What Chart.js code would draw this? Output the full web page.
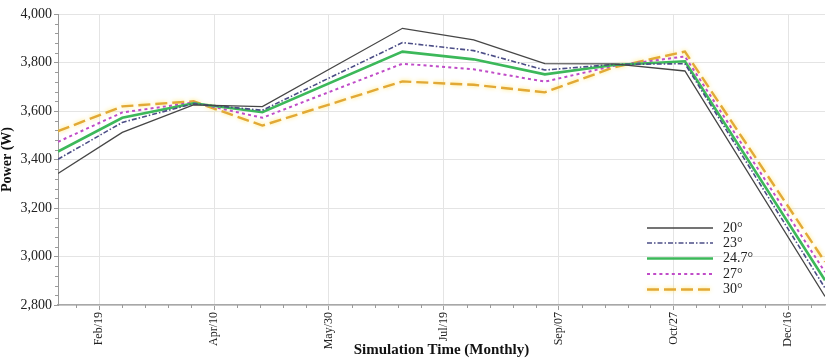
<!DOCTYPE html>
<html>
<head>
<meta charset="utf-8">
<script src="https://cdn.jsdelivr.net/npm/chart.js@4.4.1/dist/chart.umd.min.js"></script>
<style>
  html, body { margin: 0; padding: 0; background: #ffffff; }
  #wrap { width: 830px; height: 358px; position: relative; }
</style>
</head>
<body>
<div id="wrap"><canvas id="c" width="830" height="358"></canvas></div>
<script>
// Day of year (0 = Jan 1) of each monthly sample
const sampleDays = [31, 59, 90, 120, 181, 212, 243, 273, 304, 365];
// x-axis tick positions (day of year) and their labels
const tickDays = [49, 99, 149, 199, 249, 299, 349];
const tickLabels = ['Feb/19', 'Apr/10', 'May/30', 'Jul/19', 'Sep/07', 'Oct/27', 'Dec/16'];
// Series labels
const seriesNames = ['20°', '23°', '24.7°', '27°', '30°'];
// Power (W) per tilt angle
const tilt20  = [3342, 3512, 3625, 3618, 3941, 3893, 3795, 3794, 3765, 2835];
const tilt23  = [3401, 3553, 3630, 3603, 3882, 3849, 3769, 3792, 3795, 2870];
const tilt247 = [3433, 3572, 3632, 3595, 3845, 3813, 3751, 3790, 3805, 2902];
const tilt27  = [3473, 3594, 3635, 3572, 3795, 3772, 3721, 3786, 3825, 2936];
const tilt30  = [3517, 3619, 3640, 3540, 3722, 3708, 3677, 3780, 3845, 2978];

const FONT = '"Liberation Serif", "Times New Roman", serif';

function pts(arr) { return arr.map((v, i) => ({ x: sampleDays[i], y: v })); }

const styles = [
  { color: '#464646', width: 1.3, dash: [] },
  { color: '#4b4d86', width: 1.6, dash: [5, 2, 1.5, 2] },
  { color: '#3cb85a', width: 2.6, dash: [] },
  { color: '#c04cc8', width: 2.0, dash: [3, 3.2] },
  { color: '#e2a936', width: 2.4, dash: [12, 5] }
];
const seriesData = [tilt20, tilt23, tilt247, tilt27, tilt30];

const datasets = seriesData.map((arr, i) => ({
  label: seriesNames[i],
  data: pts(arr),
  borderColor: styles[i].color,
  backgroundColor: styles[i].color,
  borderWidth: styles[i].width,
  borderDash: styles[i].dash,
  pointRadius: 0,
  tension: 0,
  fill: false
}));

const glowPlugin = {
  id: 'glow',
  beforeDatasetDraw(chart, args) {
    if (args.index === 4) {
      chart.ctx.save();
      chart.ctx.shadowColor = 'rgba(255, 228, 100, 0.9)';
      chart.ctx.shadowBlur = 4;
    }
  },
  afterDatasetDraw(chart, args) {
    if (args.index === 4) chart.ctx.restore();
  }
};

const minorTicks = {
  id: 'minorTicks',
  afterDraw(chart) {
    const ctx = chart.ctx;
    const xs = chart.scales.x, ys = chart.scales.y;
    const area = chart.chartArea;
    ctx.save();
    ctx.strokeStyle = '#9a9a9a';
    ctx.lineWidth = 1;
    ctx.beginPath();
    for (let d = 39; d <= xs.max; d += 10) {
      if (tickDays.includes(d) || d < xs.min) continue;
      const px = Math.round(xs.getPixelForValue(d)) + 0.5;
      ctx.moveTo(px, area.bottom);
      ctx.lineTo(px, area.bottom + 3);
    }
    for (let v = ys.min; v <= ys.max; v += 40) {
      if (v % 200 === 0) continue;
      const py = Math.round(ys.getPixelForValue(v)) + 0.5;
      ctx.moveTo(area.left - 3, py);
      ctx.lineTo(area.left, py);
    }
    ctx.stroke();
    ctx.restore();
  }
};

const legendPlugin = {
  id: 'inLegend',
  afterDraw(chart) {
    const ctx = chart.ctx;
    const rows = [228, 243, 258.5, 274, 289.5];
    ctx.save();
    chart.data.datasets.forEach((ds, i) => {
      const y = rows[i];
      ctx.save();
      if (i === 4) { ctx.shadowColor = 'rgba(255, 228, 100, 0.9)'; ctx.shadowBlur = 4; }
      ctx.strokeStyle = ds.borderColor;
      ctx.lineWidth = ds.borderWidth;
      ctx.setLineDash(ds.borderDash || []);
      ctx.beginPath();
      ctx.moveTo(647, y);
      ctx.lineTo(713, y);
      ctx.stroke();
      ctx.restore();
      ctx.fillStyle = '#222';
      ctx.font = '14px ' + FONT;
      ctx.textBaseline = 'middle';
      ctx.textAlign = 'left';
      ctx.fillText(ds.label, 723, y);
    });
    ctx.restore();
  }
};

new Chart(document.getElementById('c'), {
  type: 'line',
  data: { datasets },
  plugins: [glowPlugin, minorTicks, legendPlugin],
  options: {
    responsive: false,
    animation: false,
    devicePixelRatio: 1,
    layout: { padding: { top: 14, right: 5, left: 0, bottom: 0 } },
    plugins: { legend: { display: false }, tooltip: { enabled: false } },
    scales: {
      x: {
        type: 'linear',
        min: 31,
        max: 365,
        afterBuildTicks(scale) { scale.ticks = tickDays.map(v => ({ value: v })); },
        afterFit(scale) { scale.height = 53; },
        ticks: {
          autoSkip: false,
          minRotation: 90,
          maxRotation: 90,
          padding: 2,
          color: '#222',
          font: { family: FONT, size: 12 },
          callback: (v) => tickLabels[tickDays.indexOf(v)]
        },
        grid: { color: '#e4e4e4', lineWidth: 1, tickLength: 5, tickColor: '#9a9a9a', drawTicks: true },
        border: { color: '#a8a8a8', width: 1.5 },
        title: {
          display: true,
          text: 'Simulation Time (Monthly)',
          color: '#111',
          font: { family: FONT, size: 15, weight: 'bold', lineHeight: 1 },
          padding: { top: 0, bottom: 0 }
        }
      },
      y: {
        min: 2800,
        max: 4000,
        afterFit(scale) { scale.width = 58; },
        ticks: {
          stepSize: 200,
          padding: 2,
          color: '#222',
          font: { family: FONT, size: 14 }
        },
        grid: { color: '#e4e4e4', lineWidth: 1, tickLength: 4, tickColor: '#9a9a9a' },
        border: { color: '#9a9a9a', width: 1 },
        title: {
          display: true,
          text: 'Power (W)',
          color: '#111',
          font: { family: FONT, size: 14, weight: 'bold', lineHeight: 1 },
          padding: { top: 0, bottom: 0 }
        }
      }
    }
  }
});
</script>
</body>
</html>
